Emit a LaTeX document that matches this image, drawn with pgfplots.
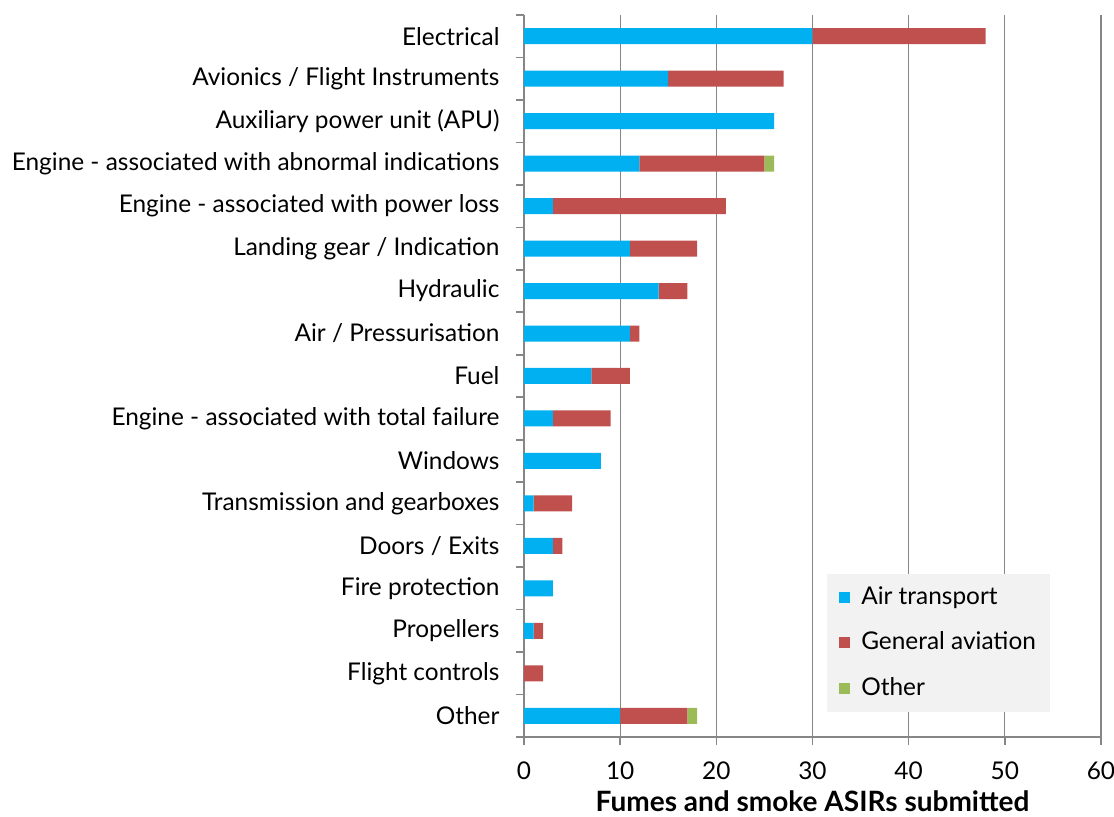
\documentclass[border=0pt]{standalone}
\usepackage{fontspec}
\setmainfont{Lato}
\usepackage{pgfplots}
\pgfplotsset{compat=1.18}
\definecolor{cblue}{HTML}{00B0F0}
\definecolor{cred}{HTML}{C0504D}
\definecolor{cgreen}{HTML}{9BBB59}
\definecolor{axgray}{HTML}{868686}
\definecolor{leggray}{HTML}{F2F2F2}
\pgfplotsset{sqleg/.style={legend image code/.code={\fill[##1] (0pt,-2.7pt) rectangle (5.4pt,2.7pt); \path (0pt,0pt) (10pt,0pt);}}}
\begin{document}
\fontsize{12.2}{14.6}\selectfont
\begin{tikzpicture}
\useasboundingbox (-262pt,-40pt) rectangle (295pt,368.5pt);
\begin{axis}[
  at={(0,0)}, anchor=south west,
  scale only axis, width=288.5pt, height=361pt,
  xbar stacked, bar width=8pt,
  xmin=0, xmax=60, ymin=-0.5, ymax=16.5, y dir=reverse,
  xtick={0,10,...,60},
  ytick={0,...,16},
  yticklabels={Electrical, Avionics / Flight Instruments, Auxiliary power unit (APU),
    Engine - associated with abnormal indications, Engine - associated with power loss,
    Landing gear / Indication, Hydraulic, Air / Pressurisation, Fuel,
    Engine - associated with total failure, Windows, Transmission and gearboxes,
    Doors / Exits, Fire protection, Propellers, Flight controls, Other},
  minor ytick={-0.5,0.5,...,16.5},
  axis x line*=bottom, axis y line*=left,
  axis line style={axgray, line width=0.8pt, -},
  xmajorgrids, major grid style={axgray, line width=0.6pt},
  tick align=outside,
  major tick length=4pt, minor tick length=4pt,
  major y tick style={draw=none},
  minor y tick style={axgray, line width=0.8pt},
  major x tick style={axgray, line width=0.8pt},
  yticklabel style={xshift=-4pt, text=black},
  xticklabel style={yshift=-4pt, text=black},
  /pgf/number format/assume math mode=true,
  xlabel={\fontsize{14}{16}\selectfont\bfseries Fumes and smoke ASIRs submitted},
  xlabel style={yshift=2.5pt},
  legend style={at={(0.525,0.227)}, anchor=north west, fill=leggray, draw=none,
    inner xsep=6pt, inner ysep=5.5pt, row sep=10pt, legend cell align=left,
    nodes={inner sep=1pt}},
]
\addplot[sqleg, fill=cblue, draw=none] coordinates {
 (30,0) (15,1) (26,2) (12,3) (3,4) (11,5) (14,6) (11,7) (7,8) (3,9) (8,10)
 (1,11) (3,12) (3,13) (1,14) (0,15) (10,16)};
\addlegendentry{Air transport}
\addplot[sqleg, fill=cred, draw=none] coordinates {
 (18,0) (12,1) (0,2) (13,3) (18,4) (7,5) (3,6) (1,7) (4,8) (6,9) (0,10)
 (4,11) (1,12) (0,13) (1,14) (2,15) (7,16)};
\addlegendentry{General aviation}
\addplot[sqleg, fill=cgreen, draw=none] coordinates {
 (0,0) (0,1) (0,2) (1,3) (0,4) (0,5) (0,6) (0,7) (0,8) (0,9) (0,10)
 (0,11) (0,12) (0,13) (0,14) (0,15) (1,16)};
\addlegendentry{Other}
\end{axis}
\end{tikzpicture}
\end{document}
